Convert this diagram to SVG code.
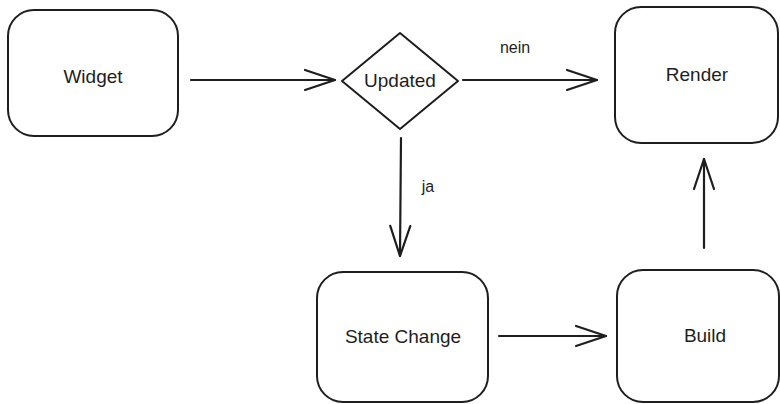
<svg xmlns="http://www.w3.org/2000/svg" width="780" height="404" viewBox="0 0 780 404">
<style>
.box{fill:#fff;stroke:#1e1e1e;stroke-width:2;}
.lbl{font-family:"Liberation Sans",Arial,sans-serif;font-size:19px;fill:#1e1e1e;text-anchor:middle;dominant-baseline:central;}
.edge{fill:none;stroke:#1e1e1e;stroke-width:2.2;stroke-linecap:round;stroke-linejoin:round;}
.elbl{font-family:"Liberation Sans",Arial,sans-serif;font-size:16px;fill:#1e1e1e;text-anchor:middle;dominant-baseline:central;}
</style>
<defs>
<marker id="arr" viewBox="-32 -12 34 24" refX="0" refY="0" markerWidth="34" markerHeight="24" markerUnits="userSpaceOnUse" orient="auto">
<path d="M-30,-10 L0,0 L-30,10" fill="none" stroke="#1e1e1e" stroke-width="2.2" stroke-linecap="round" stroke-linejoin="round"/>
</marker>
</defs>
<rect width="780" height="404" fill="#fff"/>
<g id="widget">
<rect class="box" x="8" y="10" width="170" height="126" rx="26"/>
<text class="lbl" x="93" y="76">Widget</text>
</g>
<g id="updated">
<path class="box" d="M400,33 L458,81 L400,129 L342,81 Z" stroke-linejoin="round"/>
<text class="lbl" x="400" y="80">Updated</text>
</g>
<g id="render">
<rect class="box" x="615" y="7" width="163" height="136" rx="26"/>
<text class="lbl" x="697" y="74">Render</text>
</g>
<g id="state-change">
<rect class="box" x="317" y="272" width="171" height="130" rx="26"/>
<text class="lbl" x="403" y="336">State Change</text>
</g>
<g id="build">
<rect class="box" x="617" y="270" width="162" height="132" rx="26"/>
<text class="lbl" x="705" y="335">Build</text>
</g>
<g id="connectors">
<path class="edge" d="M191,80 L335,80" marker-end="url(#arr)"/>
<path class="edge" d="M463,80 L597,80" marker-end="url(#arr)"/>
<text class="elbl" x="515" y="47">nein</text>
<path class="edge" d="M401,138 L400,256" marker-end="url(#arr)"/>
<text class="elbl" x="428" y="186">ja</text>
<path class="edge" d="M499,336 L606,336" marker-end="url(#arr)"/>
<path class="edge" d="M704,248 L704,159" marker-end="url(#arr)"/>
</g>
</svg>
